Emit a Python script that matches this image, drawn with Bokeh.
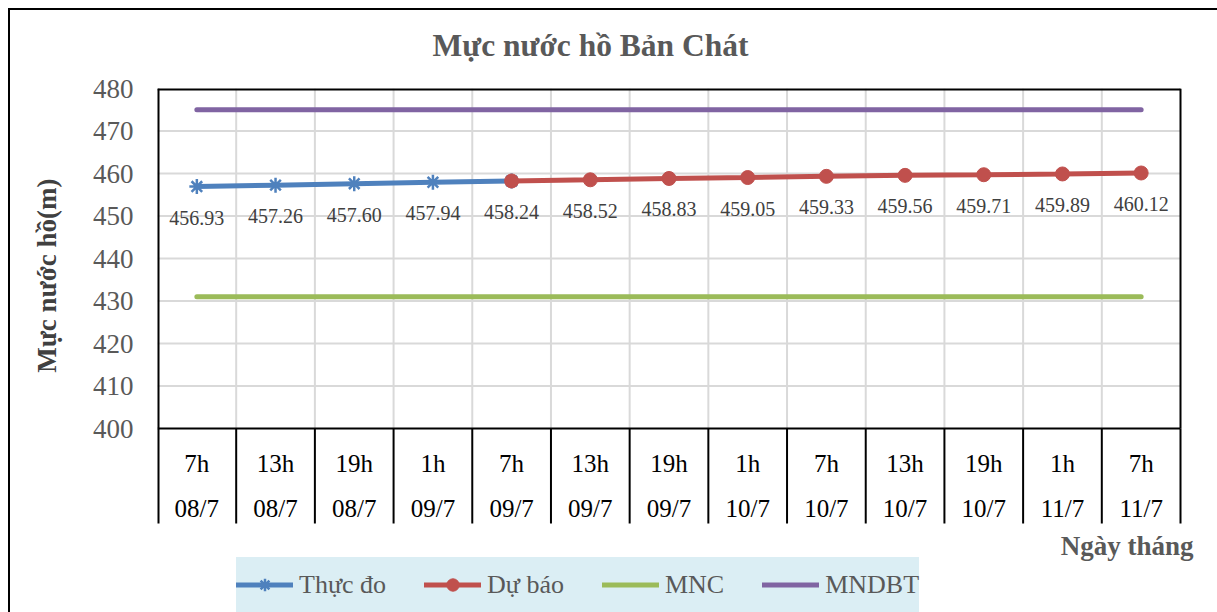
import math
from bokeh.plotting import figure
from bokeh.models import FixedTicker, Range1d, Legend, LegendItem, Title, ColumnDataSource
from bokeh.core.properties import value
from bokeh.embed import file_html
from bokeh.resources import INLINE

# ---------------- data ----------------
hour_labels = ["7h", "13h", "19h", "1h", "7h", "13h", "19h", "1h", "7h", "13h", "19h", "1h", "7h"]
date_labels = ["08/7", "08/7", "08/7", "09/7", "09/7", "09/7", "09/7", "10/7", "10/7", "10/7", "10/7", "11/7", "11/7"]
observed = [456.93, 457.26, 457.60, 457.94, 458.24]          # Thực đo (first 5 slots)
forecast = [458.24, 458.52, 458.83, 459.05, 459.33, 459.56, 459.71, 459.89, 460.12]  # Dự báo (slots 5..13)
mnc = [431, 431, 431, 431, 431, 431, 431, 431, 431, 431, 431, 431, 431]
mndbt = [475, 475, 475, 475, 475, 475, 475, 475, 475, 475, 475, 475, 475]
y_ticks = [400, 410, 420, 430, 440, 450, 460, 470, 480]

# ---------------- layout constants (pixels) ----------------
FONT = "Liberation Serif"
C_OBS, C_FC, C_MNC, C_MNDBT = "#4F81BD", "#C0504D", "#9BBB59", "#8064A2"
FIG_W, FIG_H = 1217, 612
PLOT_L, PLOT_R, PLOT_T, PLOT_B = 157, 1180, 88, 428
FRAME_R = 1205
SEP = 95            # length of the category separators below the plot area

n = len(hour_labels)
cat_w = (PLOT_R - PLOT_L) / n
px_per_y = (PLOT_B - PLOT_T) / (y_ticks[-1] - y_ticks[0])
y0, y1 = y_ticks[0], y_ticks[-1]

xc = [i + 0.5 for i in range(n)]
bounds = list(range(n + 1))
obs_x = xc[:len(observed)]
fc_x = xc[n - len(forecast):]

p = figure(width=FIG_W, height=FIG_H, output_backend="svg", toolbar_location=None,
           x_range=Range1d(0, n + (FRAME_R - PLOT_R) / cat_w),
           y_range=Range1d(y0 - (FIG_H - PLOT_B) / px_per_y, y1),
           x_axis_location=None,
           min_border_left=PLOT_L, min_border_right=FIG_W - FRAME_R,
           min_border_top=PLOT_T, min_border_bottom=0)
p.border_fill_color = None
p.background_fill_color = "white"
p.outline_line_color = None
p.grid.visible = False
p.styles = {"background": "linear-gradient(#000,#000) 8px 8px / 2px 100% no-repeat, "
                          "linear-gradient(#000,#000) 8px 8px / 100% 2px no-repeat, #ffffff"}

# title
p.title.text = "Mực nước hồ Bản Chát"
p.title.text_font = FONT
p.title.text_font_size = "31.5px"
p.title.text_font_style = "bold"
p.title.text_color = "#595959"
p.title.align = "left"
p.title.offset = 275
p.title.standoff = 51

# y axis
p.yaxis.ticker = FixedTicker(ticks=y_ticks)
p.yaxis.major_label_text_font = FONT
p.yaxis.major_label_text_font_size = "27px"
p.yaxis.major_label_text_color = "#595959"
p.yaxis.major_tick_line_color = None
p.yaxis.minor_tick_line_color = None
p.yaxis.axis_line_color = None
p.yaxis.major_label_standoff = 18

ytitle = Title(text="Mực nước hồ(m)", align="right", offset=90, standoff=56,
               text_font=FONT, text_font_size="27px", text_font_style="bold", text_color="#404040")
p.add_layout(ytitle, "left")

# grid lines inside the plot area
grid_y = y_ticks[1:-1]
p.segment(x0=[0] * len(grid_y), y0=grid_y, x1=[n] * len(grid_y), y1=grid_y,
          line_color="#D9D9D9", line_width=2)
inner = bounds[1:-1]
p.segment(x0=inner, y0=[y0] * len(inner), x1=inner, y1=[y1] * len(inner),
          line_color="#D9D9D9", line_width=2)

# plot-area border
p.segment(x0=[0], y0=[y1], x1=[n], y1=[y1], line_color="black", line_width=4)   # half clipped -> 2px
p.segment(x0=[0], y0=[y0], x1=[n], y1=[y0], line_color="black", line_width=2)
p.segment(x0=[0], y0=[y0], x1=[0], y1=[y1], line_color="black", line_width=4)   # half clipped -> 2px
p.segment(x0=[n], y0=[y0], x1=[n], y1=[y1], line_color="black", line_width=2)

# category separators below the plot area
p.ray(x=[0], y=[y0], length=SEP, length_units="screen", angle=-math.pi / 2,
      line_color="black", line_width=4)
p.ray(x=bounds[1:], y=[y0] * n, length=SEP, length_units="screen", angle=-math.pi / 2,
      line_color="black", line_width=2)

# category labels (two rows)
p.text(x=xc, y=[y0] * n, text=hour_labels, y_offset=35, text_font=value(FONT),
       text_font_size="25px", text_color="black", text_align="center", text_baseline="middle")
p.text(x=xc, y=[y0] * n, text=date_labels, y_offset=80, text_font=value(FONT),
       text_font_size="25px", text_color="black", text_align="center", text_baseline="middle")

# x-axis title
p.text(x=[n], y=[y0], text=["Ngày tháng"], x_offset=13, y_offset=117, text_font=value(FONT),
       text_font_size="27px", text_font_style="bold", text_color="#595959",
       text_align="right", text_baseline="middle")

# reference lines
r_mnc = p.line(xc, mnc, line_color=C_MNC, line_width=5, line_cap="round")
r_mndbt = p.line(xc, mndbt, line_color=C_MNDBT, line_width=5, line_cap="round")

# series
r_obs_l = p.line(obs_x, observed, line_color=C_OBS, line_width=5, line_cap="round")
r_obs_m = p.scatter(obs_x, observed, marker="asterisk", size=15, line_color=C_OBS, line_width=2.5)
r_fc_l = p.line(fc_x, forecast, line_color=C_FC, line_width=5, line_cap="round")
r_fc_m = p.scatter(fc_x, forecast, marker="circle", size=14, fill_color=C_FC, line_color=C_FC)

# data labels
lab_x = obs_x[:-1] + fc_x
lab_y = observed[:-1] + forecast
src = ColumnDataSource(dict(x=lab_x, y=lab_y, t=["%.2f" % v for v in lab_y]))
p.text(x="x", y="y", text="t", source=src, text_font=value(FONT), text_font_size="20px",
       text_color="#404040", text_align="center", text_baseline="middle", y_offset=31)

# legend (inside the frame, at its bottom)
legend = Legend(items=[
    LegendItem(label="Thực đo", renderers=[r_obs_l, r_obs_m]),
    LegendItem(label="Dự báo", renderers=[r_fc_l, r_fc_m]),
    LegendItem(label="MNC", renderers=[r_mnc]),
    LegendItem(label="MNDBT", renderers=[r_mndbt]),
], orientation="horizontal", location=(79, 0))
legend.background_fill_color = "#DBEEF4"
legend.background_fill_alpha = 1
legend.border_line_color = None
legend.label_text_font = FONT
legend.label_text_font_size = "26px"
legend.label_text_color = "#595959"
legend.glyph_width = 57
legend.glyph_height = 31
legend.label_height = 55
legend.label_standoff = 6
legend.spacing = 38
legend.padding = 12
legend.margin = 0
p.add_layout(legend, "center")

open("out.html", "w").write(file_html(p, INLINE))
